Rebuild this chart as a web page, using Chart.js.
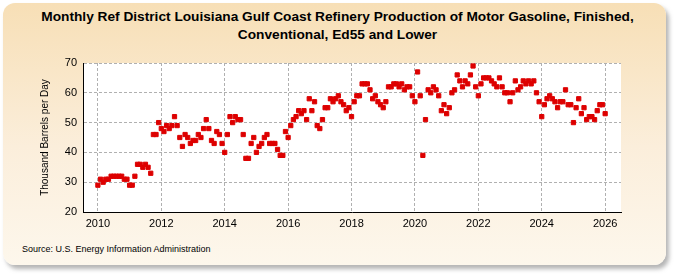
<!DOCTYPE html>
<html>
<head>
<meta charset="utf-8">
<script src="https://cdn.jsdelivr.net/npm/chart.js@4"></script>
<style>
  html, body { margin: 0; padding: 0; background: #fff; }
  #frame {
    position: absolute; left: 3px; top: 3px; width: 663px; height: 262px;
    border-radius: 12px;
    background: linear-gradient(to bottom, #f7dfb6 0%, #fbeedb 55%, #fdf7ec 100%);
    box-shadow: 3px 4px 4px rgba(120, 120, 120, 0.55);
  }
  #title {
    position: absolute; left: 0; top: 8px; width: 675px; text-align: center;
    font: bold 13.7px 'Liberation Sans Narrow', 'Arial Narrow', 'Liberation Sans', sans-serif;
    line-height: 18px; color: #000;
  }
  #source {
    position: absolute; left: 22px; top: 244px;
    font: 9px 'Liberation Sans Narrow', 'Arial Narrow', 'Liberation Sans', sans-serif; color: #000;
  }
  #wrap { position: absolute; left: 0; top: 0; width: 675px; height: 275px; }
</style>
</head>
<body>
<div id="frame"></div>
<div id="title">Monthly Ref District Louisiana Gulf Coast Refinery Production of Motor Gasoline, Finished,<br>Conventional, Ed55 and Lower</div>
<div id="source">Source: U.S. Energy Information Administration</div>
<div id="wrap"><canvas id="c" width="675" height="275"></canvas></div>
<script>
// monthly values, Jan 2010 .. Jan 2026 (thousand barrels per day)
const startYear = 2010;
const values = [
  29, 31, 30, 31, 31, 32, 32, 32, 32, 32, 31, 31,   // 2010
  29, 29, 32, 36, 36, 35, 36, 35, 33, 46, 46, 50,   // 2011
  48, 47, 49, 48, 49, 52, 49, 45, 42, 46, 45, 43,   // 2012
  44, 44, 46, 45, 48, 51, 48, 44, 43, 47, 46, 43,   // 2013
  40, 46, 52, 50, 52, 51, 51, 46, 38, 38, 43, 45,   // 2014
  40, 42, 43, 45, 46, 43, 43, 43, 41, 39, 39, 47,   // 2015
  45, 49, 51, 52, 54, 53, 54, 51, 58, 54, 57, 49,   // 2016
  48, 51, 55, 55, 58, 57, 58, 59, 57, 56, 54, 55,   // 2017
  52, 57, 59, 59, 63, 63, 63, 61, 58, 59, 57, 56,   // 2018
  55, 57, 62, 62, 63, 63, 62, 63, 61, 62, 62, 59,   // 2019
  57, 67, 59, 39, 51, 61, 60, 62, 61, 59, 54, 56,   // 2020
  53, 55, 60, 61, 66, 64, 62, 64, 63, 66, 69, 62,   // 2021
  59, 63, 65, 65, 65, 64, 63, 62, 65, 62, 60, 60,   // 2022
  57, 60, 64, 61, 62, 64, 63, 64, 63, 64, 60, 57,   // 2023
  52, 56, 58, 59, 58, 57, 55, 57, 57, 61, 56, 56,   // 2024
  50, 55, 58, 53, 55, 51, 52, 52, 51, 54, 56, 56,   // 2025
  53                                                // 2026
];
const xTicks = [2010, 2012, 2014, 2016, 2018, 2020, 2022, 2024, 2026];
const yTicks = [20, 30, 40, 50, 60, 70];

const points = values.map((v, i) => ({ x: startYear + i / 12, y: v }));
const fontFam = "'Liberation Sans Narrow', 'Arial Narrow', 'Liberation Sans', sans-serif";

// white plot background
const plotBg = {
  id: 'plotBg',
  beforeDraw(chart) {
    const a = chart.chartArea, ctx = chart.ctx;
    ctx.save();
    ctx.fillStyle = '#ffffff';
    ctx.fillRect(a.left, a.top, a.right - a.left, a.bottom - a.top);
    ctx.restore();
  }
};

new Chart(document.getElementById('c'), {
  type: 'scatter',
  data: {
    datasets: [{
      data: points,
      pointStyle: 'rect',
      pointRadius: 3,
      pointBorderWidth: 1,
      backgroundColor: '#dd0000',
      borderColor: '#dd0000',
      showLine: false
    }]
  },
  options: {
    responsive: false,
    animation: false,
    layout: { padding: { left: 0, top: 63, right: 54, bottom: 33 } },
    plugins: { legend: { display: false }, tooltip: { enabled: false } },
    scales: {
      x: {
        type: 'linear',
        min: 2009.53,
        max: 2026.5,
        afterFit(scale) { scale.height = 30; },
        afterBuildTicks(scale) { scale.ticks = xTicks.map(v => ({ value: v })); },
        grid: { color: '#b0b0b0', drawTicks: false, tickLength: 0 },
        border: { display: true, color: '#000', width: 1, dash: [3, 2] },
        ticks: { color: '#000', padding: 5, font: { family: fontFam, size: 11 }, callback: v => String(v) }
      },
      y: {
        min: 20,
        max: 70,
        afterFit(scale) { scale.width = 83; },
        afterBuildTicks(scale) { scale.ticks = yTicks.map(v => ({ value: v })); },
        grid: { color: '#b0b0b0', drawTicks: false, tickLength: 0 },
        border: { display: true, color: '#000', width: 1, dash: [3, 2] },
        ticks: { color: '#000', padding: 6, font: { family: fontFam, size: 11 } },
        title: {
          display: true,
          text: 'Thousand Barrels per Day',
          color: '#000',
          font: { family: fontFam, size: 10 },
          padding: { top: 39, bottom: 0 }
        }
      }
    }
  },
  plugins: [plotBg]
});
</script>
</body>
</html>
